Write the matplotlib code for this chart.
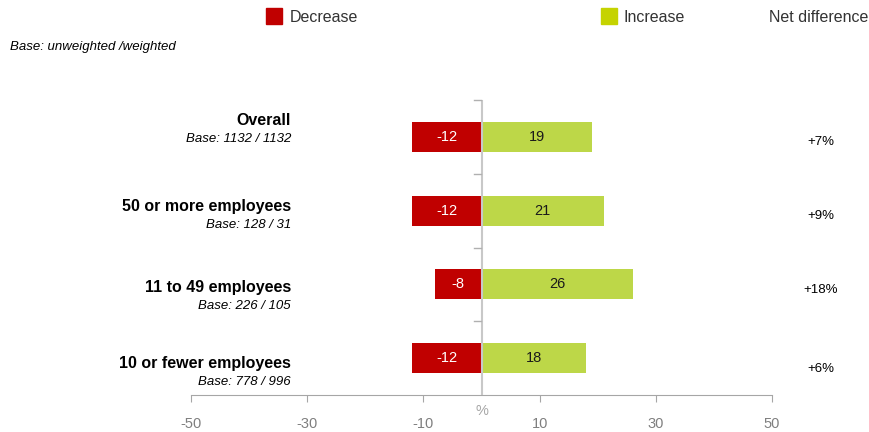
import numpy as np
import matplotlib.pyplot as plt
from matplotlib.patches import Rectangle

plt.rcParams["font.family"] = ["Liberation Sans", "DejaVu Sans"]
plt.rcParams["axes.unicode_minus"] = False

groups = ["Overall", "50 or more employees", "11 to 49 employees", "10 or fewer employees"]
bases = ["Base: 1132 / 1132", "Base: 128 / 31", "Base: 226 / 105", "Base: 778 / 996"]
decrease = [-12, -12, -8, -12]
increase = [19, 21, 26, 18]
net = ["+7%", "+9%", "+18%", "+6%"]

red = "#C00000"
green = "#BDD748"
grey = "#A6A6A6"

# vertical offsets (in category units) of the label blocks for each row
label_off = [0.22, 0.055, -0.04, -0.07]
net_off = [-0.07, -0.07, -0.08, -0.15]

fig = plt.figure(figsize=(8.7, 4.32), dpi=100)
ax = fig.add_axes([191/870, 37/432, 581/870, 295/432])

y = np.arange(len(groups))[::-1]
h = 0.41
ax.barh(y, decrease, height=h, color=red, zorder=2)
ax.barh(y, increase, height=h, color=green, zorder=2)

for yi, d, i in zip(y, decrease, increase):
    ax.text(d/2, yi, str(d), ha="center", va="center", color="white", fontsize=10.5)
    ax.text(i/2, yi, str(i), ha="center", va="center", color="#1a1a1a", fontsize=10.5)

ax.set_xlim(-50, 50)
ax.set_ylim(-0.5, 3.5)
ax.set_xticks([-50, -30, -10, 10, 30, 50])
ax.tick_params(axis="x", colors=grey, labelcolor="#7f7f7f", labelsize=10.5, length=5, pad=11)
ax.set_yticks([])
for s in ["top", "right", "left"]:
    ax.spines[s].set_visible(False)
ax.spines["bottom"].set_color(grey)

# zero line with small ticks between the groups
ax.axvline(0, color="#C8C8C8", lw=1.5, zorder=3)
for yb in [3.5, 2.5, 1.5, 0.5]:
    ax.plot([-1.3, -0.1], [yb, yb], color="#B0B0B0", lw=1, clip_on=False, zorder=3)

ax.text(0, -0.72, "%", ha="center", va="center", color="#A6A6A6", fontsize=10.5)

# group labels and bases on the left
for yi, g, b, o in zip(y, groups, bases, label_off):
    ax.text(-32.8, yi + o, g, ha="right", va="center", fontsize=11.5, fontweight="bold")
    ax.text(-32.8, yi + o - 0.25, b, ha="right", va="center", fontsize=9.5, style="italic")

# net difference column
for yi, n, o in zip(y, net, net_off):
    ax.text(58.4, yi + o, n, ha="center", va="center", fontsize=9.5)

# legend row
fig.patches.append(Rectangle((266/870, 1 - 24/432), 16/870, 16/432,
                             transform=fig.transFigure, color=red))
fig.text(290/870, 1 - 17/432, "Decrease", va="center", fontsize=11.5, color="#333333")
fig.patches.append(Rectangle((601/870, 1 - 24/432), 16/870, 16/432,
                             transform=fig.transFigure, color="#C5D300"))
fig.text(624/870, 1 - 17/432, "Increase", va="center", fontsize=11.5, color="#333333")
fig.text(769/870, 1 - 18/432, "Net difference", va="center", fontsize=11.5, color="#333333")
fig.text(10/870, 1 - 47/432, "Base: unweighted /weighted", va="center", fontsize=9.5,
         style="italic")

fig.savefig("out.png", dpi=100)
